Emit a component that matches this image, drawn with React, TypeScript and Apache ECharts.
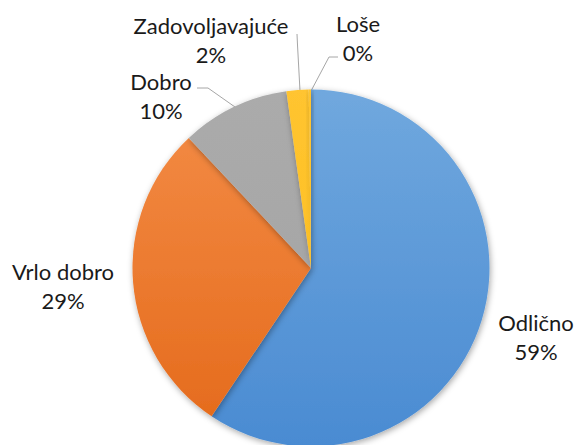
import React, { useEffect, useRef } from "react";
import * as echarts from "echarts";

const categories = ["Odlično", "Vrlo dobro", "Dobro", "Zadovoljavajuće", "Loše"];
const values = [59.4, 28.6, 9.8, 2.0, 0.2];
const colorsTop = ["#70A8DE", "#F48D47", "#ABABAB", "#FFC430", "#FFC430"];
const colorsBottom = ["#4A8BD2", "#E4691A", "#A2A2A2", "#FDBE1C", "#FDBE1C"];

// label anchor positions (layout styling)
const labelPos = [
  [536, 337],
  [63, 286],
  [161, 96],
  [211, 40],
  [358, 38],
];
const leaderLines: (number[][] | null)[] = [
  null,
  null,
  [[197, 88], [208, 88], [235, 107]],
  [[297, 34], [297.5, 45], [300, 91]],
  [[338, 57], [329, 57], [311, 91]],
];

export default function App() {
  const ref = useRef<HTMLDivElement>(null);
  useEffect(() => {
    document.body.style.margin = "0";
    const chart = echarts.init(ref.current!, undefined, { renderer: "svg" });
    const cx = 311;
    const cy = 268;
    const r = 178.5;
    chart.setOption({
      animation: false,
      backgroundColor: "#ffffff",
      series: [
        {
          type: "pie",
          center: [cx, cy],
          radius: [0, r],
          startAngle: 90,
          clockwise: true,
          percentPrecision: 0,
          avoidLabelOverlap: false,
          itemStyle: {
            shadowBlur: 6,
            shadowColor: "rgba(0,0,0,0.35)",
            shadowOffsetX: 1,
            shadowOffsetY: 2,
          },
          label: {
            show: true,
            formatter: "{b}\n{d}%",
            fontFamily: "Lato",
            fontSize: 22,
            lineHeight: 29,
            color: "#1a1a1a",
            align: "center",
          },
          labelLine: {
            show: true,
            lineStyle: { color: "#A6A6A6", width: 1 },
          },
          labelLayout: (params: any) => {
            const i = params.dataIndex;
            const res: any = {
              x: labelPos[i][0],
              y: labelPos[i][1],
              align: "center",
              verticalAlign: "middle",
            };
            if (leaderLines[i]) res.labelLinePoints = leaderLines[i];
            return res;
          },
          data: categories.map((name, i) => ({
            name,
            value: values[i],
            labelLine: { show: !!leaderLines[i] },
            itemStyle: {
              color: new echarts.graphic.LinearGradient(
                0,
                cy - r,
                0,
                cy + r,
                [
                  { offset: 0, color: colorsTop[i] },
                  { offset: 1, color: colorsBottom[i] },
                ],
                true
              ),
            },
          })),
        },
      ],
    });
    return () => chart.dispose();
  }, []);
  return <div ref={ref} style={{ width: 576, height: 445 }} />;
}
